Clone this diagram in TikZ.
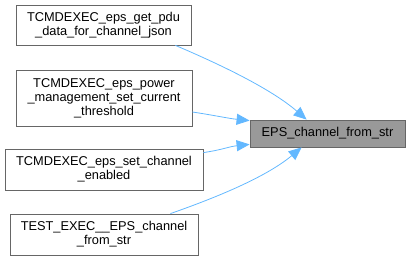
\documentclass[tikz,border=0pt]{standalone}
\usepackage{fontspec}
\setmainfont{Liberation Sans}
\usetikzlibrary{arrows.meta,calc}
\definecolor{edgeblue}{HTML}{63B8FF}
\definecolor{boxline}{HTML}{666666}
\definecolor{hilite}{HTML}{999999}
\begin{document}
\begin{tikzpicture}[x=1pt,y=-1pt,
  fnbox/.style={draw=boxline, fill=white, line width=0.8pt, inner sep=0pt,
    align=center, font=\fontsize{12.8}{14}\selectfont},
  focusbox/.style={fnbox, fill=hilite},
  callarrow/.style={draw=edgeblue, line width=0.8pt,
    -{Triangle[length=13pt,width=11pt,fill=edgeblue]}}]
\useasboundingbox (0,0) rectangle (410,261);

% callers
\node[fnbox, minimum width=175pt, minimum height=40pt] (n1) at (103.5,25)
  {TCMDEXEC\_eps\_get\_pdu\\\_data\_for\_channel\_json};
\node[fnbox, minimum width=176pt, minimum height=56pt] (n2) at (104,98)
  {TCMDEXEC\_eps\_power\\\_management\_set\_current\\\_threshold};
\node[fnbox, minimum width=198pt, minimum height=41pt] (n3) at (104,169.5)
  {TCMDEXEC\_eps\_set\_channel\\\_enabled};
\node[fnbox, minimum width=188pt, minimum height=41pt] (n4) at (104,234.5)
  {TEST\_EXEC\_\_EPS\_channel\\\_from\_str};

% callee
\node[focusbox, minimum width=155pt, minimum height=27pt] (t) at (327.5,133.5)
  {EPS\_channel\_from\_str};

% call edges
\draw[callarrow] ($(n1.south east)+(-16,0)$) .. controls +(40,17) and +(-37,-32) .. ($(t.north west)+(57,0)$);
\draw[callarrow] ($(n2.east)+(0,14)$) .. controls +(20,3) and +(-20,-2) .. ($(t.north west)+(0,1)$);
\draw[callarrow] ($(n3.north east)+(0,4)$) .. controls +(20,-3) and +(-20,2) .. ($(t.south west)+(0,-3)$);
\draw[callarrow] ($(n4.north east)+(-28,0)$) .. controls +(40,-14) and +(-37,31) .. ($(t.south west)+(52,0)$);
\end{tikzpicture}
\end{document}
